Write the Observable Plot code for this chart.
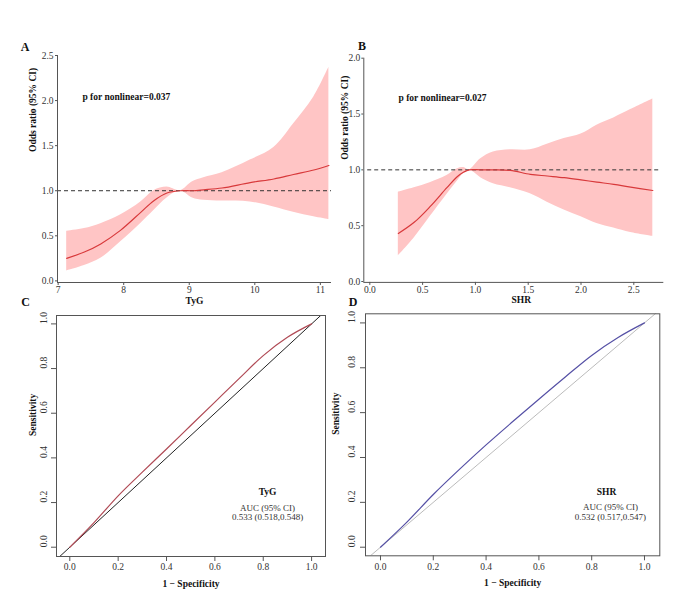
<!DOCTYPE html>
<html>
<head>
<meta charset="utf-8">
<script src="https://cdn.jsdelivr.net/npm/d3@7"></script>
<script src="https://cdn.jsdelivr.net/npm/@observablehq/plot@0.6"></script>
<style>
body { margin: 0; background: #fff; }
#wrap { position: relative; width: 697px; height: 602px; font-family: "Liberation Serif", "Times New Roman", serif; overflow: hidden; }
.panel { position: absolute; }
.tag { position: absolute; font-weight: bold; font-size: 12px; transform: translate(-50%, -50%); color: #111; }
</style>
</head>
<body>
<div id="wrap"></div>
<script>
// ---------- Panel A: RCS of TyG ----------
const tygX   = [7.13, 7.40, 7.65, 7.95, 8.26, 8.46, 8.66, 8.86, 9.05, 9.22, 9.50, 9.93, 10.29, 10.59, 10.90, 11.13];
const tygOR  = [0.25, 0.32, 0.41, 0.56, 0.76, 0.89, 0.975, 1.0, 1.0, 1.01, 1.03, 1.09, 1.13, 1.18, 1.23, 1.28];
const tygHi  = [0.55, 0.58, 0.635, 0.73, 0.875, 1.0, 1.04, 1.0, 1.10, 1.145, 1.20, 1.34, 1.48, 1.74, 2.04, 2.37];
const tygLo  = [0.11, 0.17, 0.25, 0.43, 0.636, 0.78, 0.92, 1.0, 0.92, 0.894, 0.885, 0.875, 0.82, 0.76, 0.71, 0.68];
const tygXTicks = [7, 8, 9, 10, 11];
const tygYTicks = [0, 0.5, 1.0, 1.5, 2.0, 2.5];

// ---------- Panel B: RCS of SHR ----------
const shrX   = [0.27, 0.42, 0.57, 0.73, 0.83, 0.89, 0.94, 1.05, 1.17, 1.33, 1.52, 1.68, 1.84, 2.0, 2.15, 2.31, 2.47, 2.68];
const shrOR  = [0.43, 0.53, 0.67, 0.84, 0.94, 0.98, 1.0, 1.0, 1.0, 0.995, 0.96, 0.945, 0.93, 0.91, 0.89, 0.87, 0.845, 0.815];
const shrHi  = [0.80, 0.84, 0.885, 0.95, 1.01, 1.02, 1.0, 1.10, 1.16, 1.18, 1.18, 1.23, 1.28, 1.32, 1.40, 1.465, 1.54, 1.635];
const shrLo  = [0.23, 0.39, 0.58, 0.78, 0.90, 0.97, 1.0, 0.93, 0.875, 0.84, 0.785, 0.71, 0.64, 0.58, 0.52, 0.48, 0.44, 0.405];
const shrXTicks = [0, 0.5, 1.0, 1.5, 2.0, 2.5];
const shrYTicks = [0, 0.5, 1.0, 1.5, 2.0];

// ---------- Panel C: ROC of TyG ----------
const rocTygFpr = [0, 0.1, 0.2, 0.3, 0.4, 0.5, 0.6, 0.7, 0.8, 0.9, 1.0];
const rocTygTpr = [0, 0.11, 0.23, 0.336, 0.44, 0.545, 0.65, 0.755, 0.858, 0.94, 1.0];
// ---------- Panel D: ROC of SHR ----------
const rocShrFpr = [0, 0.1, 0.2, 0.3, 0.4, 0.5, 0.6, 0.7, 0.8, 0.9, 1.0];
const rocShrTpr = [0, 0.112, 0.235, 0.348, 0.456, 0.559, 0.66, 0.759, 0.855, 0.935, 1.0];
const rocTicks = [0, 0.2, 0.4, 0.6, 0.8, 1.0];
const refDiag = [-0.2, 1.2];

const aucTyG = ["TyG", "AUC (95% CI)", "0.533 (0.518,0.548)"];
const aucShr = ["SHR", "AUC (95% CI)", "0.532 (0.517,0.547)"];

const FONT = "Liberation Serif";
const wrap = document.getElementById("wrap");
function place(el, left, top) {
  const d = document.createElement("div");
  d.className = "panel";
  d.style.left = left + "px";
  d.style.top = top + "px";
  d.append(el);
  wrap.append(d);
}
function tag(t, x, y) {
  const d = document.createElement("div");
  d.className = "tag";
  d.textContent = t;
  d.style.left = x + "px";
  d.style.top = y + "px";
  wrap.append(d);
}
const f1 = d => d.toFixed(1);
const BAND = "#ffc5c5", RED = "#d8393b", AX = "#555", TXT = "#333";

// ---- A ----
const rcsA = tygX.map((x, i) => ({x, y: tygOR[i], lo: tygLo[i], hi: tygHi[i]}));
const plotA = Plot.plot({
  width: 340, height: 280, marginLeft: 57, marginRight: 9, marginTop: 25, marginBottom: 28,
  style: {fontFamily: FONT, background: "transparent", overflow: "visible"},
  x: {domain: [6.99, 11.17]},
  y: {domain: [-0.018, 2.5]},
  marks: [
    Plot.areaY(rcsA, {x: "x", y1: "lo", y2: "hi", fill: BAND, curve: "catmull-rom"}),
    Plot.ruleY([1], {stroke: "#333", strokeDasharray: "4,3"}),
    Plot.lineY(rcsA, {x: "x", y: "y", stroke: RED, strokeWidth: 1.2, curve: "catmull-rom"}),
    Plot.ruleX([6.99], {stroke: AX}),
    Plot.ruleY([-0.018], {stroke: AX}),
    Plot.axisY({ticks: tygYTicks, tickSize: 2, tickPadding: 2, tickFormat: f1, label: null, fontSize: 9.5, fill: TXT, stroke: AX}),
    Plot.axisX({ticks: tygXTicks, tickSize: 3, tickPadding: 1, tickFormat: d => String(d), label: null, fontSize: 9.5, fill: TXT, stroke: AX}),
    Plot.text(["Odds ratio (95% CI)"], {y: [1.43], frameAnchor: "left", dx: -25, rotate: -90, fontWeight: "bold", fontSize: 9.5, fill: "#111"}),
    Plot.text(["TyG"], {frameAnchor: "bottom", lineAnchor: "middle", dy: 18, fontWeight: "bold", fontSize: 9.5, fill: "#111"}),
    Plot.text(["p for nonlinear=0.037"], {x: [7.37], y: [2.035], textAnchor: "start", fontWeight: "bold", fontSize: 9.5, fill: "#111"})
  ]
});
place(plotA, 0, 30);

// ---- B ----
const rcsB = shrX.map((x, i) => ({x, y: shrOR[i], lo: shrLo[i], hi: shrHi[i]}));
const plotB = Plot.plot({
  width: 350, height: 280, marginLeft: 28.3, marginRight: 21.7, marginTop: 27.7, marginBottom: 28.1,
  style: {fontFamily: FONT, background: "transparent", overflow: "visible"},
  x: {domain: [-0.057, 2.784]},
  y: {domain: [-0.008, 2.0]},
  marks: [
    Plot.areaY(rcsB, {x: "x", y1: "lo", y2: "hi", fill: BAND, curve: "catmull-rom"}),
    Plot.ruleY([1], {x1: -0.02, x2: 2.74, stroke: "#333", strokeDasharray: "4,3"}),
    Plot.lineY(rcsB, {x: "x", y: "y", stroke: RED, strokeWidth: 1.2, curve: "catmull-rom"}),
    Plot.ruleX([-0.057], {stroke: AX}),
    Plot.ruleY([-0.008], {stroke: AX}),
    Plot.axisY({ticks: shrYTicks, tickSize: 2, tickPadding: 1.5, tickFormat: f1, label: null, fontSize: 9.5, fill: TXT, stroke: AX}),
    Plot.axisX({ticks: shrXTicks, tickSize: 3, tickPadding: 1, tickFormat: f1, label: null, fontSize: 9.5, fill: TXT, stroke: AX}),
    Plot.text(["Odds ratio (95% CI)"], {y: [1.09], frameAnchor: "left", dx: -19, rotate: -90, fontWeight: "bold", fontSize: 9.5, fill: "#111"}),
    Plot.text(["SHR"], {x: [1.434], frameAnchor: "bottom", lineAnchor: "middle", dy: 18, fontWeight: "bold", fontSize: 9.5, fill: "#111"}),
    Plot.text(["p for nonlinear=0.027"], {x: [0.272], y: [1.648], textAnchor: "start", fontWeight: "bold", fontSize: 9.5, fill: "#111"})
  ]
});
place(plotB, 335, 30);

// ---- ROC helper ----
function rocPlot(fpr, tpr, opts) {
  const pts = fpr.map((x, i) => ({x, y: tpr[i]}));
  const diag = refDiag.map(v => ({x: v, y: v}));
  return Plot.plot({
    width: opts.width, height: 302,
    marginLeft: opts.ml, marginRight: opts.mr, marginTop: opts.mt, marginBottom: opts.mb,
    style: {fontFamily: FONT, background: "transparent", overflow: "visible"},
    x: {domain: opts.xd},
    y: {domain: opts.yd},
    marks: [
      Plot.line(diag, {x: "x", y: "y", stroke: opts.diag, strokeWidth: 1, clip: true}),
      Plot.line(pts, {x: "x", y: "y", stroke: opts.color, strokeWidth: 1.2, curve: "monotone-x"}),
      Plot.frame({stroke: AX}),
      Plot.axisY({ticks: rocTicks, tickSize: 5, tickFormat: () => "", label: null, stroke: AX}),
      Plot.text(rocTicks, {y: d => d, text: f1, frameAnchor: "left", dx: -opts.yl, rotate: -90, fontSize: 9.5, fill: TXT}),
      Plot.axisX({ticks: rocTicks, tickSize: 5, tickPadding: 2, tickFormat: f1, label: null, fontSize: 9.5, fill: TXT, stroke: AX}),
      Plot.text(["Sensitivity"], {frameAnchor: "left", dx: -opts.st, rotate: -90, fontWeight: "bold", fontSize: 9.5, fill: "#111"}),
      Plot.text(["1 \u2212 Specificity"], {frameAnchor: "bottom", lineAnchor: "middle", dy: 27, fontWeight: "bold", fontSize: 9.5, fill: "#111"}),
      Plot.text([opts.auc[0]], {x: [opts.ax[0]], y: [opts.ay[0]], fontWeight: "bold", fontSize: 9.5, fill: "#111"}),
      Plot.text(opts.auc.slice(1), {x: [opts.ax[1], opts.ax[1]], y: [opts.ay[1], opts.ay[2]], fontSize: 9, fill: TXT})
    ]
  });
}

const plotC = rocPlot(rocTygFpr, rocTygTpr, {
  width: 340, ml: 56, mr: 15, mt: 15, mb: 46,
  xd: [-0.055, 1.0575], yd: [-0.0416, 1.0376],
  color: "#b04a55", diag: "#222", yl: 13, st: 24,
  auc: aucTyG, ax: [0.818, 0.818], ay: [0.249, 0.177, 0.133]
});
place(plotC, 0, 300);

const plotD = rocPlot(rocShrFpr, rocShrTpr, {
  width: 345, ml: 35, mr: 15.7, mt: 13.3, mb: 46.7,
  xd: [-0.0568, 1.058], yd: [-0.0383, 1.0406],
  color: "#5550a5", diag: "#bbbbbb", yl: 14, st: 30,
  auc: aucShr, ax: [0.856, 0.871], ay: [0.245, 0.177, 0.132]
});
place(plotD, 330, 300);

tag("A", 25, 47);
tag("B", 362, 46);
tag("C", 25.7, 301.7);
tag("D", 353, 301.5);
</script>
</body>
</html>
